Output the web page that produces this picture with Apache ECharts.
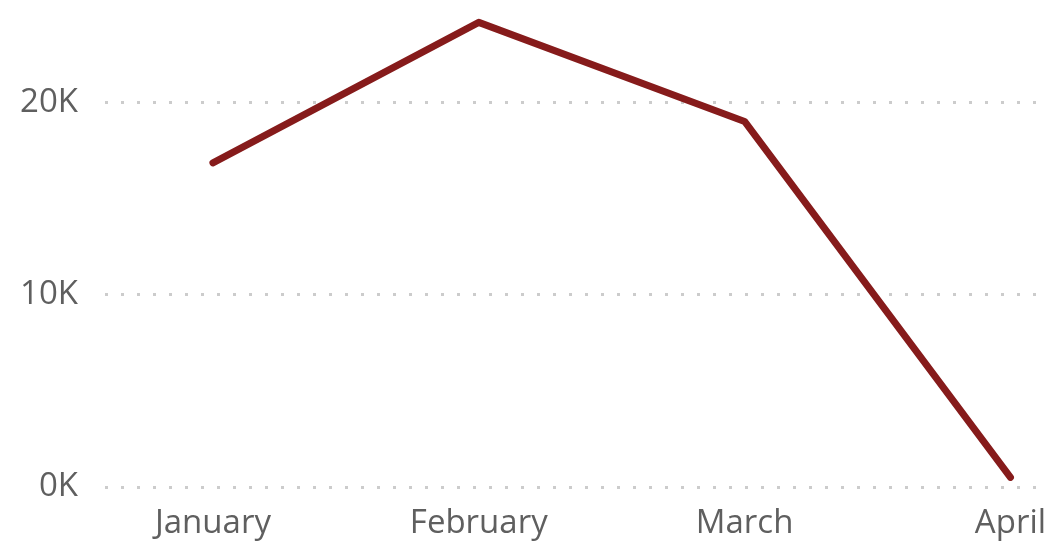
<!DOCTYPE html>
<html>
<head>
<meta charset="utf-8">
<script src="https://cdn.jsdelivr.net/npm/echarts@6/dist/echarts.min.js"></script>
<style>
html,body{margin:0;padding:0;background:#fff;}
#chart{width:1052px;height:545px;}
</style>
</head>
<body>
<div id="chart"></div>
<script>
const categories = ['January', 'February', 'March', 'April'];
const values = [16850, 24150, 19000, 500];
const yTicks = [0, 10000, 20000];

const chart = echarts.init(document.getElementById('chart'), null, {renderer: 'canvas'});
const font = 'Open Sans, Noto Sans, sans-serif';
chart.setOption({
  animation: false,
  backgroundColor: '#ffffff',
  grid: {left: 105, right: 7, top: 6, bottom: 58, containLabel: false},
  xAxis: {
    type: 'value',
    min: -0.406,
    max: 3.13,
    axisLine: {show: false},
    axisTick: {show: false},
    splitLine: {show: false},
    axisLabel: {
      customValues: categories.map((c, i) => i),
      formatter: v => categories[Math.round(v)],
      color: '#5f5f5f',
      fontSize: 33,
      fontFamily: font,
      margin: 20
    }
  },
  yAxis: {
    type: 'value',
    min: 0,
    max: 25000,
    interval: 10000,
    axisLine: {show: false},
    axisTick: {show: false},
    splitLine: {
      show: true,
      showMaxLine: false,
      lineStyle: {color: '#cccccc', width: 3, type: [3, 13]}
    },
    axisLabel: {
      customValues: yTicks,
      formatter: v => (v / 1000) + 'K',
      color: '#5f5f5f',
      fontSize: 33,
      fontFamily: font,
      margin: 27
    }
  },
  series: [{
    type: 'line',
    data: values.map((v, i) => [i, v]),
    symbol: 'none',
    clip: false,
    lineStyle: {color: '#861b1b', width: 7, cap: 'round', join: 'round'}
  }]
});
</script>
</body>
</html>
